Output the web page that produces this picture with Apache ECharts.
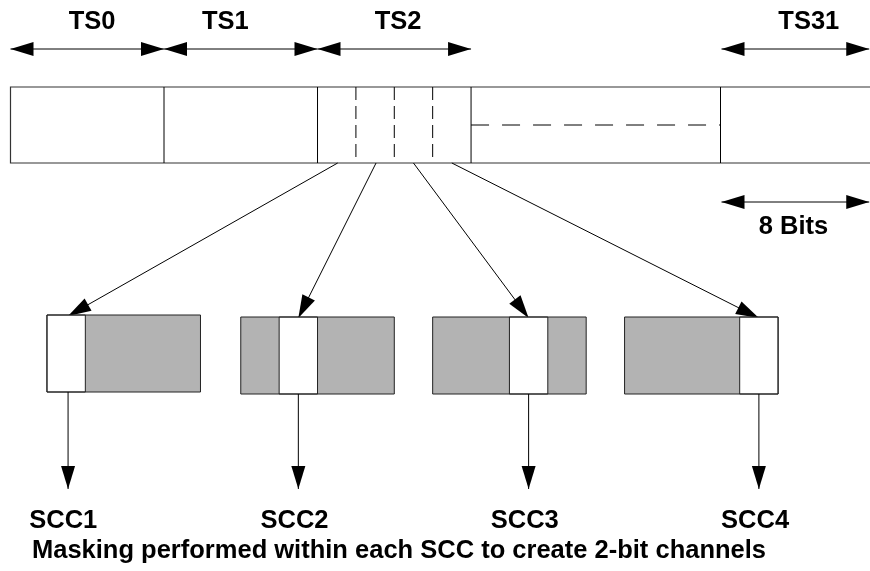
<!DOCTYPE html>
<html>
<head>
<meta charset="utf-8">
<script src="https://cdn.jsdelivr.net/npm/echarts@6/dist/echarts.min.js"></script>
<style>
  html, body { margin: 0; padding: 0; background: #fff; }
  #chart { width: 870px; height: 571px; }
</style>
</head>
<body>
<div id="chart"></div>
<script>
// x is measured in bits from the left edge of the frame, y in rows from the top
const slotNames = ['TS0', 'TS1', 'TS2', 'TS31']
const slotSpans = [[0, 8], [8, 16], [16, 24], [37.05, 44.75]]
const slotLabelBits = [4.25, 11.2, 20.2, 41.6]
const frameBits = [0, 46]
const frameRows = [87, 163]
const solidDividers = [8, 16, 24, 37]
const dashedDividers = [18, 20, 22]
const gapDash = [24, 37]          // dashed line across the unused slots
const bitsSpan = [37.05, 44.75]
const bitsLabel = '8 Bits'
const bitsLabelBit = 40.8
const fanFrom = [17.05, 19.05, 21.0, 23.0]
const fanTo = [3.0, 15.0, 27.0, 39.0]
const sccNames = ['SCC1', 'SCC2', 'SCC3', 'SCC4']
const sccStart = [1.9, 12, 22, 32]
const sccWhite = [1.9, 14, 26, 38]
const sccTop = [315, 317, 317, 317]
const sccBottom = [392, 394, 394, 394]
const sccLabelBits = [2.75, 14.8, 26.8, 38.8]
const caption = 'Masking performed within each SCC to create 2-bit channels'
const captionBit = 1.12

const rows = { label: 21.5, span: 49, gap: 125, bits: 202, bitsLabel: 226.5, dropEnd: 489, scc: 520.5, caption: 551 }

const INK = '#000'
const FONT = { fontFamily: '"Liberation Sans", Arial, sans-serif', fontWeight: 'bold', fontSize: 25.5 }
const HEAD_LEN = 23
const HEAD_W = 7

function head(from, tip) {
  const dx = tip[0] - from[0], dy = tip[1] - from[1]
  const len = Math.hypot(dx, dy)
  const ux = dx / len, uy = dy / len
  const bx = tip[0] - ux * HEAD_LEN, by = tip[1] - uy * HEAD_LEN
  return {
    type: 'polygon',
    shape: { points: [tip, [bx - uy * HEAD_W, by + ux * HEAD_W], [bx + uy * HEAD_W, by - ux * HEAD_W]] },
    style: { fill: INK }
  }
}

function line(a, b, style) {
  return {
    type: 'line',
    shape: { x1: a[0], y1: a[1], x2: b[0], y2: b[1] },
    style: Object.assign({ stroke: INK, lineWidth: 1 }, style || {})
  }
}

function text(p, str, align) {
  return {
    type: 'text',
    style: Object.assign({ x: p[0], y: p[1], text: str, align: align || 'center', verticalAlign: 'middle', fill: INK }, FONT)
  }
}

const chart = echarts.init(document.getElementById('chart'), null, { renderer: 'canvas' })

const base = { type: 'custom', coordinateSystem: 'cartesian2d', clip: false, silent: true }

chart.setOption({
  animation: false,
  backgroundColor: '#fff',
  grid: { left: 0, right: 0, top: 0, bottom: 0 },
  xAxis: { type: 'value', min: -0.547, max: 44.79, show: false },
  yAxis: { type: 'value', min: 0, max: 571, inverse: true, show: false },
  series: [
    {
      ...base, name: 'frame',
      data: [[frameBits[0], frameRows[0], frameBits[1], frameRows[1]]],
      renderItem: (p, api) => {
        const a = api.coord([api.value(0), api.value(1)])
        const b = api.coord([api.value(2), api.value(3)])
        return {
          type: 'rect',
          shape: { x: a[0], y: a[1], width: b[0] - a[0], height: b[1] - a[1] },
          style: { fill: 'none', stroke: '#333', lineWidth: 1.2 }
        }
      }
    },
    {
      ...base, name: 'dividers',
      data: solidDividers.map(b => [b, frameRows[0], frameRows[1]]),
      renderItem: (p, api) => line(api.coord([api.value(0), api.value(1)]), api.coord([api.value(0), api.value(2)]))
    },
    {
      ...base, name: 'dashed',
      data: dashedDividers.map(b => [b, frameRows[0], b, frameRows[1]]).concat([[gapDash[0], rows.gap, gapDash[1], rows.gap]]),
      renderItem: (p, api) => {
        const vertical = api.value(0) === api.value(2)
        return line(api.coord([api.value(0), api.value(1)]), api.coord([api.value(2), api.value(3)]),
          { lineDash: vertical ? [13, 6] : [18, 13] })
      }
    },
    {
      ...base, name: 'spans',
      data: slotSpans.map(s => [s[0], s[1], rows.span]).concat([[bitsSpan[0], bitsSpan[1], rows.bits]]),
      renderItem: (p, api) => {
        const a = api.coord([api.value(0), api.value(2)])
        const b = api.coord([api.value(1), api.value(2)])
        return { type: 'group', children: [line(a, b), head(b, a), head(a, b)] }
      }
    },
    {
      ...base, name: 'fanout',
      data: fanFrom.map((f, i) => [f, frameRows[1], fanTo[i], sccTop[i] + 1]),
      renderItem: (p, api) => {
        const a = api.coord([api.value(0), api.value(1)])
        const b = api.coord([api.value(2), api.value(3)])
        return { type: 'group', children: [line(a, b), head(a, b)] }
      }
    },
    {
      ...base, name: 'scc',
      data: sccStart.map((s, i) => [s, sccWhite[i], sccTop[i], sccBottom[i]]),
      renderItem: (p, api) => {
        const x0 = api.value(0), w0 = api.value(1), top = api.value(2), bot = api.value(3)
        const a = api.coord([x0, top]), b = api.coord([x0 + 8, bot])
        const wa = api.coord([w0, top]), wb = api.coord([w0 + 2, bot])
        return {
          type: 'group',
          children: [
            { type: 'rect', shape: { x: a[0], y: a[1], width: b[0] - a[0], height: b[1] - a[1] },
              style: { fill: '#b3b3b3', stroke: 'none' } },
            { type: 'rect', shape: { x: wa[0], y: wa[1], width: wb[0] - wa[0], height: wb[1] - wa[1] },
              style: { fill: '#fff', stroke: '#222', lineWidth: 1 } },
            { type: 'rect', shape: { x: a[0], y: a[1], width: b[0] - a[0], height: b[1] - a[1] },
              style: { fill: 'none', stroke: '#222', lineWidth: 1 } }
          ]
        }
      }
    },
    {
      ...base, name: 'drops',
      data: fanTo.map((x, i) => [x, sccBottom[i], rows.dropEnd]),
      renderItem: (p, api) => {
        const a = api.coord([api.value(0), api.value(1)])
        const b = api.coord([api.value(0), api.value(2)])
        return { type: 'group', children: [line(a, b), head(a, b)] }
      }
    },
    {
      ...base, name: 'slotLabels',
      data: slotLabelBits.map(b => [b, rows.label]),
      renderItem: (p, api) => text(api.coord([api.value(0), api.value(1)]), slotNames[p.dataIndex])
    },
    {
      ...base, name: 'sccLabels',
      data: sccLabelBits.map(b => [b, rows.scc]),
      renderItem: (p, api) => text(api.coord([api.value(0), api.value(1)]), sccNames[p.dataIndex])
    },
    {
      ...base, name: 'notes',
      data: [[bitsLabelBit, rows.bitsLabel], [captionBit, rows.caption]],
      renderItem: (p, api) => {
        const pt = api.coord([api.value(0), api.value(1)])
        return p.dataIndex === 0 ? text(pt, bitsLabel) : text(pt, caption, 'left')
      }
    }
  ]
})
</script>
</body>
</html>
